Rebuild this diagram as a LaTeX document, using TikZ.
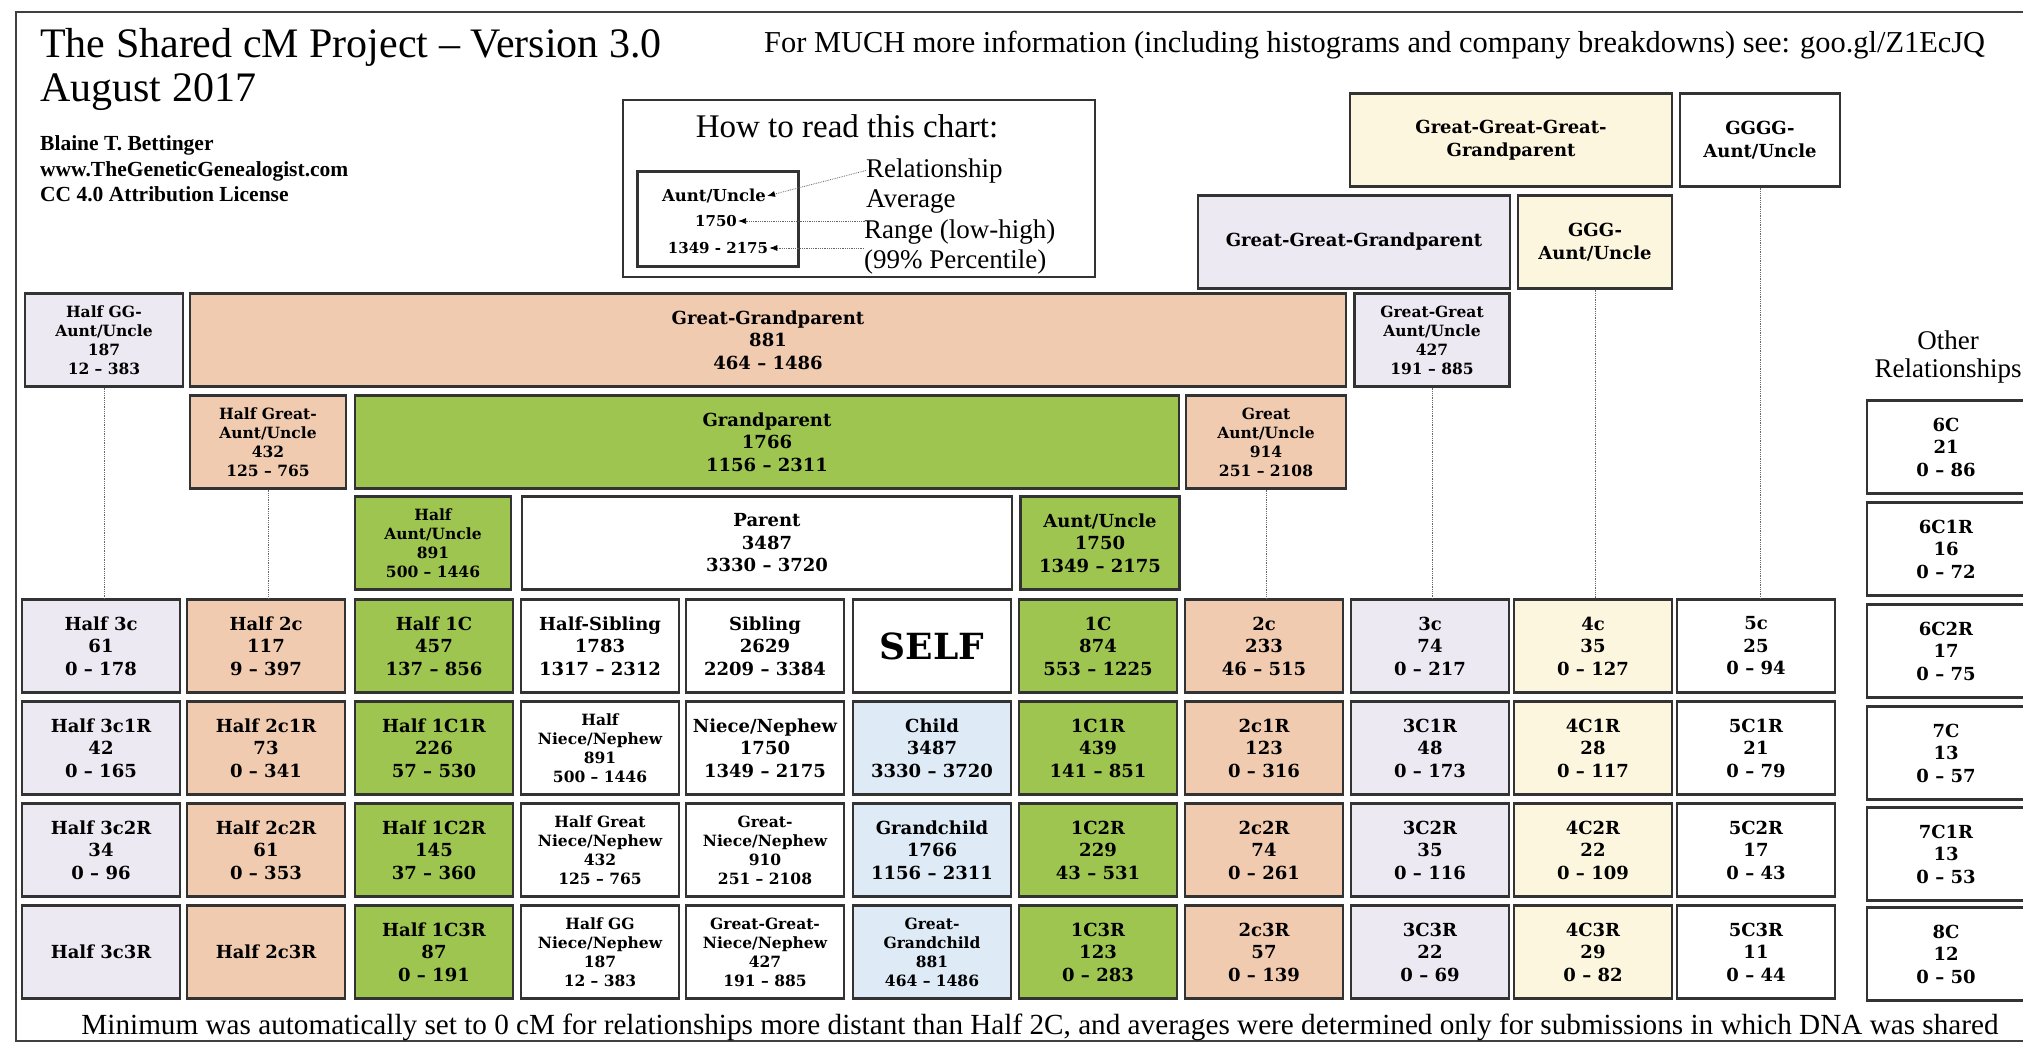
\documentclass[tikz,border=0pt]{standalone}
\usepackage{fontspec}
\setmainfont{Liberation Serif}
\newfontfamily\cellfont{DejaVu Serif}[Ligatures=TeX]
\usepackage{tikz}
\usetikzlibrary{arrows.meta}
\usepackage{xcolor}
\definecolor{peach}{RGB}{241,203,176}
\definecolor{leaf}{RGB}{158,197,80}
\definecolor{lilac}{RGB}{236,233,242}
\definecolor{cream}{RGB}{253,246,222}
\definecolor{sky}{RGB}{222,234,246}
\tikzset{>={Latex[length=8pt,width=6pt,color=black]}}

\begin{document}
\begin{tikzpicture}[x=1pt, y=-1pt]
        \tikzstyle{cell}=[rectangle, draw=black!80, line width=2.2pt, minimum width=158pt,
                minimum height=93pt, inner sep=0pt, align=center,
                font=\cellfont\bfseries\fontsize{18}{22.5}\selectfont]
        \tikzstyle{tall}=[font=\cellfont\bfseries\fontsize{15.5}{19}\selectfont]
        \tikzstyle{link}=[black!60, densely dotted, line width=0.8pt]
        \tikzstyle{words}=[anchor=base west, inner sep=0pt]
        \useasboundingbox (0,0) rectangle (2023,1044);
        \clip (0,0) rectangle (2023,1044);
        \draw[line width=2pt, black!75] (16,12) rectangle (2060,1041);

        % heading
        \node[words, font=\fontsize{42}{46}\selectfont] (title) at (40,57)
                {The Shared cM Project -- Version 3.0};
        \node[words, font=\fontsize{42}{46}\selectfont] (date) at (40,101) {August 2017};
        \node[words, font=\bfseries\fontsize{21.5}{24}\selectfont] (who) at (40,150) {Blaine T. Bettinger};
        \node[words, font=\bfseries\fontsize{21.5}{24}\selectfont] (web) at (40,176) {www.TheGeneticGenealogist.com};
        \node[words, font=\bfseries\fontsize{21.5}{24}\selectfont] (lic) at (40,201) {CC 4.0 Attribution License};
        \node[words, font=\fontsize{30.4}{33}\selectfont] (more) at (764,52)
                {For MUCH more information (including histograms and company breakdowns) see: goo.gl/Z1EcJQ};

        % how to read
        \node[draw=black!80, line width=2.2pt, minimum width=472pt, minimum height=177pt] (howto) at (859,188.5) {};
        \node[anchor=base, inner sep=0pt, font=\fontsize{33}{36}\selectfont] (howhead) at (847,137) {How to read this chart:};
        \node[draw=black!80, line width=2.2pt, minimum width=161pt, minimum height=95pt] (exbox) at (718,219) {};
        \node[inner sep=1pt, font=\cellfont\bfseries\fontsize{16.5}{18}\selectfont] (exrel) at (714,196) {Aunt/Uncle};
        \node[inner sep=1pt, font=\cellfont\bfseries\fontsize{15}{18}\selectfont] (exavg) at (716,221) {1750};
        \node[inner sep=1pt, font=\cellfont\bfseries\fontsize{15}{18}\selectfont] (exrng) at (718,248) {1349 - 2175};
        \node[words, font=\fontsize{27}{30}\selectfont] (lrel) at (866,177) {Relationship};
        \node[words, font=\fontsize{27}{30}\selectfont] (lavg) at (866,207) {Average};
        \node[words, font=\fontsize{27}{30}\selectfont] (lrng) at (864,238) {Range (low-high)};
        \node[words, font=\fontsize{27}{30}\selectfont] (lpct) at (864,268) {(99\% Percentile)};
        \draw[link, <-] (exrel.east) -- (lrel.west);
        \draw[link, <-] (exavg.east) -- (lavg.west |- exavg.east);
        \draw[link, <-] (exrng.east) -- (lrng.west |- exrng.east);

        % ancestors
        \node[cell, fill=cream, minimum width=322pt] (ggggp) at (1511,140) {Great-Great-Great-\\Grandparent};
        \node[cell, minimum width=160pt] (gggga) at (1760,140) {GGGG-\\Aunt/Uncle};
        \node[cell, fill=lilac, minimum width=312pt] (gggp) at (1354,242) {Great-Great-Grandparent};
        \node[cell, fill=cream, minimum width=154pt] (ggga) at (1595,242) {GGG-\\Aunt/Uncle};
        \node[cell, tall, fill=lilac] (hgga) at (104,340) {Half GG-\\Aunt/Uncle\\187\\12 -- 383};
        \node[cell, fill=peach, minimum width=1156pt] (ggp) at (768,340) {Great-Grandparent\\881\\464 -- 1486};
        \node[cell, tall, fill=lilac, minimum width=155pt] (gga) at (1432,340) {Great-Great\\Aunt/Uncle\\427\\191 -- 885};
        \node[cell, tall, fill=peach, minimum width=156pt] (hga) at (268,442) {Half Great-\\Aunt/Uncle\\432\\125 -- 765};
        \node[cell, fill=leaf, minimum width=824pt] (gp) at (767,442) {Grandparent\\1766\\1156 -- 2311};
        \node[cell, tall, fill=peach, minimum width=160pt] (ga) at (1266,442) {Great\\Aunt/Uncle\\914\\251 -- 2108};
        \node[cell, tall, fill=leaf, minimum width=156pt] (ha) at (433,543) {Half\\Aunt/Uncle\\891\\500 -- 1446};
        \node[cell, minimum width=490pt] (par) at (767,543) {Parent\\3487\\3330 -- 3720};
        \node[cell, fill=leaf, minimum width=159pt] (au) at (1100,543) {Aunt/Uncle\\1750\\1349 -- 2175};

        % self row
        \node[cell, fill=lilac] (h3c) at (101,646) {Half 3c\\61\\0 -- 178};
        \node[cell, fill=peach] (h2c) at (266,646) {Half 2c\\117\\9 -- 397};
        \node[cell, fill=leaf] (h1c) at (434,646) {Half 1C\\457\\137 -- 856};
        \node[cell] (hsib) at (600,646) {Half-Sibling\\1783\\1317 -- 2312};
        \node[cell] (sib) at (765,646) {Sibling\\2629\\2209 -- 3384};
        \node[cell, font=\cellfont\bfseries\fontsize{36}{40}\selectfont] (self) at (932,646) {SELF};
        \node[cell, fill=leaf] (c1) at (1098,646) {1C\\874\\553 -- 1225};
        \node[cell, fill=peach] (c2) at (1264,646) {2c\\233\\46 -- 515};
        \node[cell, fill=lilac] (c3) at (1430,646) {3c\\74\\0 -- 217};
        \node[cell, fill=cream] (c4) at (1593,646) {4c\\35\\0 -- 127};
        \node[cell] (c5) at (1756,646) {5c\\25\\0 -- 94};

        % one generation down
        \node[cell, fill=lilac] (h3cr1) at (101,748) {Half 3c1R\\42\\0 -- 165};
        \node[cell, fill=peach] (h2cr1) at (266,748) {Half 2c1R\\73\\0 -- 341};
        \node[cell, fill=leaf] (h1cr1) at (434,748) {Half 1C1R\\226\\57 -- 530};
        \node[cell, tall] (hnn) at (600,748) {Half\\Niece/Nephew\\891\\500 -- 1446};
        \node[cell] (nn) at (765,748) {Niece/Nephew\\1750\\1349 -- 2175};
        \node[cell, fill=sky] (child) at (932,748) {Child\\3487\\3330 -- 3720};
        \node[cell, fill=leaf] (c1r1) at (1098,748) {1C1R\\439\\141 -- 851};
        \node[cell, fill=peach] (c2r1) at (1264,748) {2c1R\\123\\0 -- 316};
        \node[cell, fill=lilac] (c3r1) at (1430,748) {3C1R\\48\\0 -- 173};
        \node[cell, fill=cream] (c4r1) at (1593,748) {4C1R\\28\\0 -- 117};
        \node[cell] (c5r1) at (1756,748) {5C1R\\21\\0 -- 79};

        % two generations down
        \node[cell, fill=lilac] (h3cr2) at (101,850) {Half 3c2R\\34\\0 -- 96};
        \node[cell, fill=peach] (h2cr2) at (266,850) {Half 2c2R\\61\\0 -- 353};
        \node[cell, fill=leaf] (h1cr2) at (434,850) {Half 1C2R\\145\\37 -- 360};
        \node[cell, tall] (hgnn) at (600,850) {Half Great\\Niece/Nephew\\432\\125 -- 765};
        \node[cell, tall] (gnn) at (765,850) {Great-\\Niece/Nephew\\910\\251 -- 2108};
        \node[cell, fill=sky] (gchild) at (932,850) {Grandchild\\1766\\1156 -- 2311};
        \node[cell, fill=leaf] (c1r2) at (1098,850) {1C2R\\229\\43 -- 531};
        \node[cell, fill=peach] (c2r2) at (1264,850) {2c2R\\74\\0 -- 261};
        \node[cell, fill=lilac] (c3r2) at (1430,850) {3C2R\\35\\0 -- 116};
        \node[cell, fill=cream] (c4r2) at (1593,850) {4C2R\\22\\0 -- 109};
        \node[cell] (c5r2) at (1756,850) {5C2R\\17\\0 -- 43};

        % three generations down
        \node[cell, fill=lilac] (h3cr3) at (101,952) {Half 3c3R};
        \node[cell, fill=peach] (h2cr3) at (266,952) {Half 2c3R};
        \node[cell, fill=leaf] (h1cr3) at (434,952) {Half 1C3R\\87\\0 -- 191};
        \node[cell, tall] (hggnn) at (600,952) {Half GG\\Niece/Nephew\\187\\12 -- 383};
        \node[cell, tall] (ggnn) at (765,952) {Great-Great-\\Niece/Nephew\\427\\191 -- 885};
        \node[cell, tall, fill=sky] (ggchild) at (932,952) {Great-\\Grandchild\\881\\464 -- 1486};
        \node[cell, fill=leaf] (c1r3) at (1098,952) {1C3R\\123\\0 -- 283};
        \node[cell, fill=peach] (c2r3) at (1264,952) {2c3R\\57\\0 -- 139};
        \node[cell, fill=lilac] (c3r3) at (1430,952) {3C3R\\22\\0 -- 69};
        \node[cell, fill=cream] (c4r3) at (1593,952) {4C3R\\29\\0 -- 82};
        \node[cell] (c5r3) at (1756,952) {5C3R\\11\\0 -- 44};

        % other relationships
        \node[align=center, font=\fontsize{27}{28}\selectfont] (otherhead) at (1948,357) {Other\\Relationships};
        \node[cell] (o6c) at (1946,447) {6C\\21\\0 -- 86};
        \node[cell] (o6c1r) at (1946,549) {6C1R\\16\\0 -- 72};
        \node[cell] (o6c2r) at (1946,651) {6C2R\\17\\0 -- 75};
        \node[cell] (o7c) at (1946,753) {7C\\13\\0 -- 57};
        \node[cell] (o7c1r) at (1946,854) {7C1R\\13\\0 -- 53};
        \node[cell] (o8c) at (1946,954) {8C\\12\\0 -- 50};

        % dotted drop lines
        \draw[link] (hgga.south) -- (hgga.south |- h3c.north);
        \draw[link] (hga.south) -- (hga.south |- h2c.north);
        \draw[link] (ga.south) -- (ga.south |- c2.north);
        \draw[link] (gga.south) -- (gga.south |- c3.north);
        \draw[link] (ggga.south) -- (ggga.south |- c4.north);
        \draw[link] (gggga.south) -- (gggga.south |- c5.north);

        \node[anchor=base, inner sep=0pt, font=\fontsize{29.2}{32}\selectfont] (foot) at (1040,1034)
                {Minimum was automatically set to 0 cM for relationships more distant than Half 2C, and averages were determined only for submissions in which DNA was shared};
\end{tikzpicture}
\end{document}
